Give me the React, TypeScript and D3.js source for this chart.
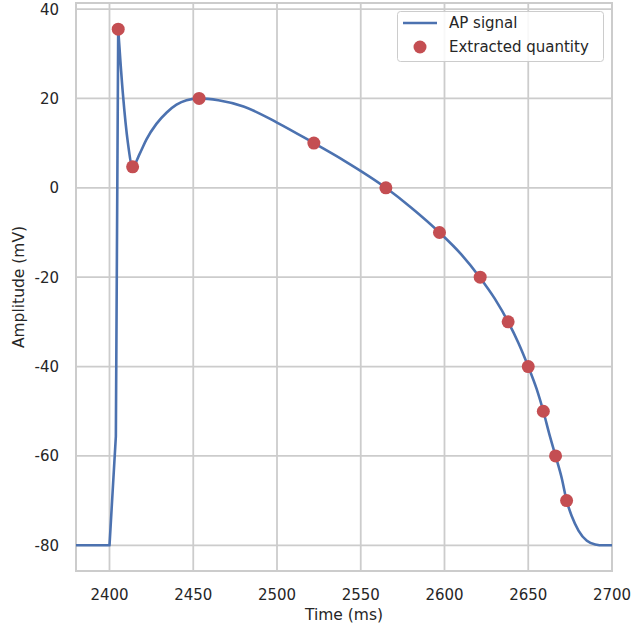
import React from "react";
import * as d3 from "d3";

const apTime = [2380, 2400, 2403.8, 2405.2, 2408, 2411, 2413.8, 2418, 2422, 2428, 2434, 2440, 2446, 2453.5, 2465, 2480, 2500, 2522, 2540, 2565, 2580, 2597, 2610, 2621, 2630, 2638, 2644, 2650, 2655, 2659, 2662.5, 2666.3, 2670, 2672.9, 2676, 2680, 2685, 2690, 2695, 2700];
const apValue = [-80, -80, -55.6, 35.5, 21, 10, 4.7, 7.6, 10.8, 14.3, 16.8, 18.6, 19.6, 20, 19.6, 18.2, 14.6, 10, 6.1, 0, -4.4, -10, -14.9, -20, -24.8, -30, -34.6, -40, -45, -50, -55, -60, -65, -70, -73.5, -76.7, -79, -79.8, -80, -80];

const ptTime = [2405.2, 2413.8, 2453.5, 2522, 2565, 2597, 2621.3, 2638, 2650, 2659, 2666.3, 2672.9];
const ptValue = [35.5, 4.7, 20, 10, 0, -10, -20, -30, -40, -50, -60, -70];

const xTicks = [2400, 2450, 2500, 2550, 2600, 2650, 2700];
const yTicks = [-80, -60, -40, -20, 0, 20, 40];

const W = 633, H = 631;
const L = 76, R = 612, T = 3, B = 571;
const FONT = "DejaVu Sans, sans-serif";
const TXT = "#262626";
const GRID = "#cccccc";

export default function App() {
  const x = d3.scaleLinear().domain([2380, 2700]).range([L, R]);
  const y = d3.scaleLinear().domain([-85.75, 41.35]).range([B, T]);
  const pts: [number, number][] = apTime.map((t, i) => [t, apValue[i]]);
  const upstroke = pts.slice(0, 4);
  const rest = pts.slice(3);
  const lin = d3.line<[number, number]>().x((d) => x(d[0])).y((d) => y(d[1]));
  const smooth = d3.line<[number, number]>().x((d) => x(d[0])).y((d) => y(d[1])).curve(d3.curveMonotoneX);
  const d = (lin(upstroke) || "") + (smooth(rest) || "").replace(/^M/, "L");
  return (
    <svg width={W} height={H} style={{ position: "absolute", left: 0, top: 0, background: "#fff" }}>
      {xTicks.map((t) => (
        <line key={"gx" + t} x1={x(t)} x2={x(t)} y1={T} y2={B} stroke={GRID} strokeWidth={1.8} />
      ))}
      {yTicks.map((t) => (
        <line key={"gy" + t} x1={L} x2={R} y1={y(t)} y2={y(t)} stroke={GRID} strokeWidth={1.8} />
      ))}
      <rect x={L} y={T} width={R - L} height={B - T} fill="none" stroke={GRID} strokeWidth={2} />
      <path d={d} fill="none" stroke="#4c72b0" strokeWidth={2.6} strokeLinejoin="round" />
      {ptTime.map((t, i) => (
        <circle key={"p" + i} cx={x(t)} cy={y(ptValue[i])} r={6.5} fill="#c44e52" />
      ))}
      {xTicks.map((t) => (
        <text key={"tx" + t} x={x(t)} y={600} textAnchor="middle" fontFamily={FONT} fontSize={15} fill={TXT}>{t}</text>
      ))}
      {yTicks.map((t) => (
        <text key={"ty" + t} x={59} y={y(t) + 5.5} textAnchor="end" fontFamily={FONT} fontSize={15} fill={TXT}>{t}</text>
      ))}
      <text x={(L + R) / 2} y={620} textAnchor="middle" fontFamily={FONT} fontSize={15.5} fill={TXT}>Time (ms)</text>
      <text transform={`translate(24,${(T + B) / 2}) rotate(-90)`} textAnchor="middle" fontFamily={FONT} fontSize={15.5} fill={TXT}>Amplitude (mV)</text>
      <g>
        <rect x={397.5} y={11.5} width={206} height={50} rx={3} fill="#fff" fillOpacity={0.85} stroke={GRID} strokeWidth={1} />
        <line x1={403} x2={437} y1={23} y2={23} stroke="#4c72b0" strokeWidth={2.6} />
        <text x={449} y={28} fontFamily={FONT} fontSize={15} fill={TXT}>AP signal</text>
        <circle cx={420} cy={47} r={6.5} fill="#c44e52" />
        <text x={449} y={52} fontFamily={FONT} fontSize={15} fill={TXT}>Extracted quantity</text>
      </g>
    </svg>
  );
}
